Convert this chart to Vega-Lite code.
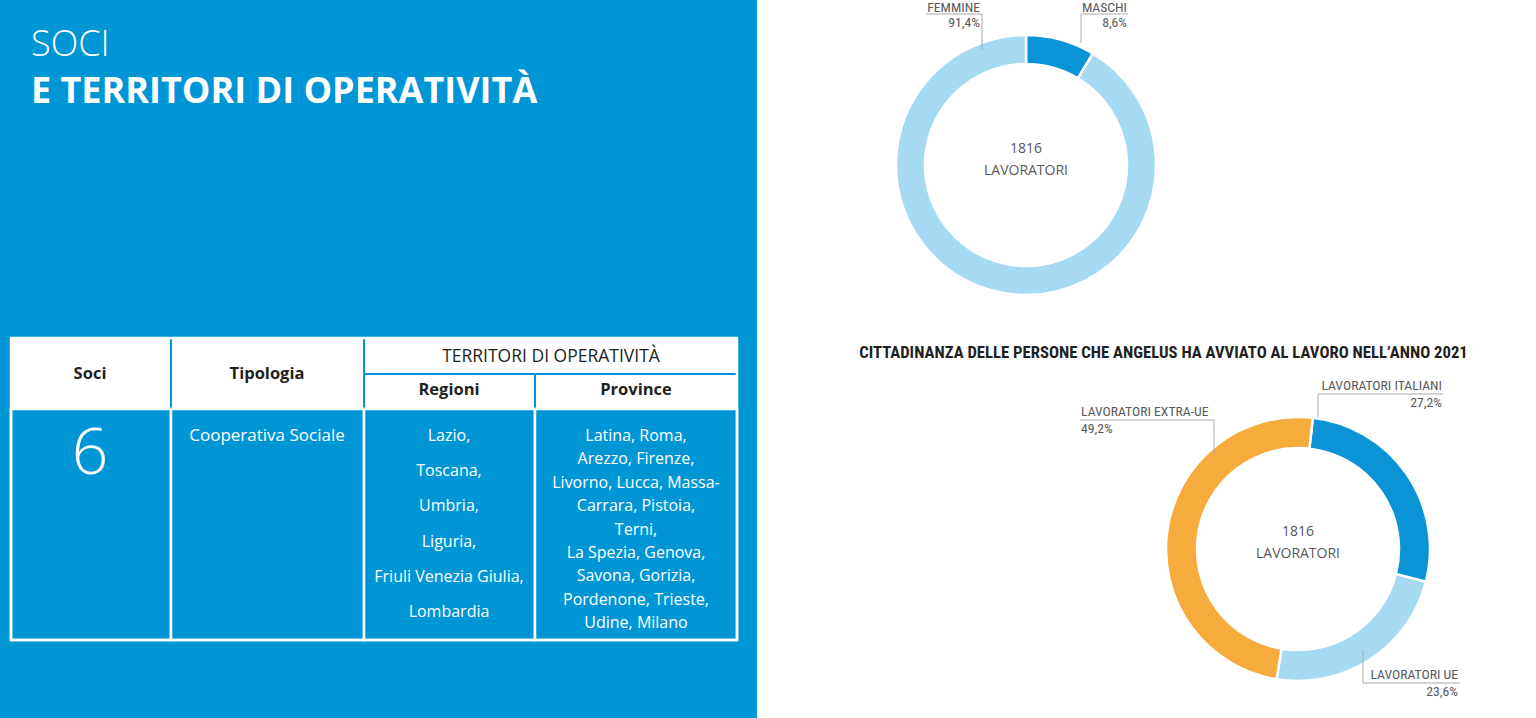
{
  "$schema": "https://vega.github.io/schema/vega-lite/v6.json",
  "background": "white",
  "padding": 0,
  "spacing": 0,
  "bounds": "flush",
  "config": {
    "view": {"stroke": null},
    "concat": {"spacing": 0},
    "font": "Open Sans",
    "locale": {"number": {"decimal": ",", "thousands": ".", "grouping": [3], "currency": ["€", ""]}}
  },
  "datasets": {
    "titoloSinistra": [
      {"riga": "SOCI", "livello": "sopra", "x": 31, "y": 56},
      {"riga": "E TERRITORI DI OPERATIVITÀ", "livello": "sotto", "x": 31, "y": 103}
    ],
    "tabella": [
      {"cella": "Soci", "parte": "intestazione", "x": 11, "x2": 171, "y": 338, "y2": 409},
      {"cella": "Tipologia", "parte": "intestazione", "x": 171, "x2": 364, "y": 338, "y2": 409},
      {"cella": "Territori di operatività", "parte": "intestazione", "x": 364, "x2": 737, "y": 338, "y2": 374},
      {"cella": "Regioni", "parte": "intestazione", "x": 364, "x2": 535, "y": 374, "y2": 409},
      {"cella": "Province", "parte": "intestazione", "x": 535, "x2": 737, "y": 374, "y2": 409},
      {"cella": "Soci", "parte": "corpo", "x": 11, "x2": 171, "y": 409, "y2": 640},
      {"cella": "Tipologia", "parte": "corpo", "x": 171, "x2": 364, "y": 409, "y2": 640},
      {"cella": "Regioni", "parte": "corpo", "x": 364, "x2": 535, "y": 409, "y2": 640},
      {"cella": "Province", "parte": "corpo", "x": 535, "x2": 737, "y": 409, "y2": 640},
      {"cella": "Tabella", "parte": "cornice", "x": 11, "x2": 737, "y": 338, "y2": 640}
    ],
    "testiTabella": [
      {"testo": "Soci", "tipo": "intestazione", "x": 90, "y": 374},
      {"testo": "Tipologia", "tipo": "intestazione", "x": 267, "y": 374},
      {"testo": "TERRITORI DI OPERATIVITÀ", "tipo": "gruppo", "x": 551, "y": 357},
      {"testo": "Regioni", "tipo": "intestazione", "x": 449, "y": 390},
      {"testo": "Province", "tipo": "intestazione", "x": 636, "y": 390},
      {"testo": "6", "tipo": "numero", "x": 90, "y": 455},
      {"testo": "Cooperativa Sociale", "tipo": "tipologia", "x": 267, "y": 436},
      {"testo": "Lazio,\nToscana,\nUmbria,\nLiguria,\nFriuli Venezia Giulia,\nLombardia", "tipo": "regioni", "x": 449, "y": 436},
      {"testo": "Latina, Roma,\nArezzo, Firenze,\nLivorno, Lucca, Massa-\nCarrara, Pistoia,\nTerni,\nLa Spezia, Genova,\nSavona, Gorizia,\nPordenone, Trieste,\nUdine, Milano", "tipo": "province", "x": 636, "y": 436}
    ],
    "genere": [
      {"cat": "MASCHI", "quota": 0.086, "ord": 1},
      {"cat": "FEMMINE", "quota": 0.914, "ord": 2}
    ],
    "genereEtichette": [
      {"cat": "FEMMINE", "x": 223, "y": 8},
      {"cat": "MASCHI", "x": 370, "y": 8}
    ],
    "genereGuide": [
      {"cat": "FEMMINE", "p": 1, "x": 169, "y": 14},
      {"cat": "FEMMINE", "p": 2, "x": 225, "y": 14},
      {"cat": "FEMMINE", "p": 3, "x": 225, "y": 50},
      {"cat": "MASCHI", "p": 1, "x": 371, "y": 14},
      {"cat": "MASCHI", "p": 2, "x": 324, "y": 14},
      {"cat": "MASCHI", "p": 3, "x": 324, "y": 43}
    ],
    "totale": [{"totale": 1816, "unita": "LAVORATORI"}],
    "cittadinanza": [
      {"cat": "LAVORATORI ITALIANI", "quota": 0.272, "ord": 1},
      {"cat": "LAVORATORI UE", "quota": 0.236, "ord": 2},
      {"cat": "LAVORATORI EXTRA-UE", "quota": 0.492, "ord": 3}
    ],
    "cittadinanzaEtichette": [
      {"cat": "LAVORATORI ITALIANI", "x": 382, "y": 6},
      {"cat": "LAVORATORI UE", "x": 398, "y": 295},
      {"cat": "LAVORATORI EXTRA-UE", "x": 21, "y": 32}
    ],
    "cittadinanzaGuide": [
      {"cat": "LAVORATORI ITALIANI", "p": 1, "x": 383, "y": 14},
      {"cat": "LAVORATORI ITALIANI", "p": 2, "x": 258, "y": 14},
      {"cat": "LAVORATORI ITALIANI", "p": 3, "x": 258, "y": 37},
      {"cat": "LAVORATORI UE", "p": 1, "x": 400, "y": 303},
      {"cat": "LAVORATORI UE", "p": 2, "x": 303, "y": 303},
      {"cat": "LAVORATORI UE", "p": 3, "x": 303, "y": 270},
      {"cat": "LAVORATORI EXTRA-UE", "p": 1, "x": 20, "y": 40},
      {"cat": "LAVORATORI EXTRA-UE", "p": 2, "x": 154, "y": 40},
      {"cat": "LAVORATORI EXTRA-UE", "p": 3, "x": 154, "y": 75}
    ],
    "titoloGrafico": [{"titolo": "CITTADINANZA DELLE PERSONE CHE ANGELUS HA AVVIATO AL LAVORO NELL’ANNO 2021"}]
  },
  "hconcat": [
    {
      "width": 757,
      "height": 718,
      "view": {"fill": "#0096d6", "stroke": null},
      "encoding": {
        "x": {"field": "x", "type": "quantitative", "scale": {"domain": [0, 757]}, "axis": null},
        "y": {"field": "y", "type": "quantitative", "scale": {"domain": [0, 718], "reverse": true}, "axis": null}
      },
      "layer": [
        {
          "data": {"name": "titoloSinistra"},
          "transform": [{"filter": "datum.livello === 'sopra'"}],
          "mark": {"type": "text", "align": "left", "baseline": "alphabetic", "fontSize": 36, "fontWeight": 300, "color": "white"},
          "encoding": {"text": {"field": "riga"}}
        },
        {
          "data": {"name": "titoloSinistra"},
          "transform": [{"filter": "datum.livello === 'sotto'"}],
          "mark": {"type": "text", "align": "left", "baseline": "alphabetic", "fontSize": 36, "fontWeight": "bold", "color": "white"},
          "encoding": {"text": {"field": "riga"}}
        },
        {
          "data": {"name": "tabella"},
          "transform": [{"filter": "datum.parte === 'intestazione'"}],
          "mark": {"type": "rect", "fill": "white", "stroke": "#0096d6", "strokeWidth": 2},
          "encoding": {"x2": {"field": "x2"}, "y2": {"field": "y2"}}
        },
        {
          "data": {"name": "tabella"},
          "transform": [{"filter": "datum.parte === 'corpo'"}],
          "mark": {"type": "rect", "fill": "#0096d6", "stroke": "white", "strokeWidth": 2.5},
          "encoding": {"x2": {"field": "x2"}, "y2": {"field": "y2"}}
        },
        {
          "data": {"name": "tabella"},
          "transform": [{"filter": "datum.parte === 'cornice'"}],
          "mark": {"type": "rect", "filled": false, "stroke": "white", "strokeWidth": 2.5},
          "encoding": {"x2": {"field": "x2"}, "y2": {"field": "y2"}}
        },
        {
          "data": {"name": "testiTabella"},
          "transform": [{"filter": "datum.tipo === 'intestazione'"}],
          "mark": {"type": "text", "align": "center", "baseline": "middle", "fontSize": 16.5, "fontWeight": "bold", "color": "#231f20"},
          "encoding": {"text": {"field": "testo"}}
        },
        {
          "data": {"name": "testiTabella"},
          "transform": [{"filter": "datum.tipo === 'gruppo'"}],
          "mark": {"type": "text", "align": "center", "baseline": "middle", "fontSize": 17.5, "color": "#231f20"},
          "encoding": {"text": {"field": "testo"}}
        },
        {
          "data": {"name": "testiTabella"},
          "transform": [{"filter": "datum.tipo === 'numero'"}],
          "mark": {"type": "text", "align": "center", "baseline": "middle", "fontSize": 64, "fontWeight": 300, "color": "white"},
          "encoding": {"text": {"field": "testo"}}
        },
        {
          "data": {"name": "testiTabella"},
          "transform": [{"filter": "datum.tipo === 'tipologia'"}],
          "mark": {"type": "text", "align": "center", "baseline": "middle", "fontSize": 17, "color": "white"},
          "encoding": {"text": {"field": "testo"}}
        },
        {
          "data": {"name": "testiTabella"},
          "transform": [{"filter": "datum.tipo === 'regioni'"}],
          "mark": {"type": "text", "align": "center", "baseline": "middle", "fontSize": 16, "color": "white", "lineBreak": "\n", "lineHeight": 35.2},
          "encoding": {"text": {"field": "testo"}}
        },
        {
          "data": {"name": "testiTabella"},
          "transform": [{"filter": "datum.tipo === 'province'"}],
          "mark": {"type": "text", "align": "center", "baseline": "middle", "fontSize": 16, "color": "white", "lineBreak": "\n", "lineHeight": 23.4},
          "encoding": {"text": {"field": "testo"}}
        }
      ]
    },
    {
      "spacing": 0,
      "bounds": "flush",
      "vconcat": [
        {
          "width": 538,
          "height": 330,
          "layer": [
            {
              "data": {"name": "genere"},
              "mark": {"type": "arc", "outerRadius": 130, "innerRadius": 101, "stroke": "white", "strokeWidth": 2.5},
              "encoding": {
                "theta": {"field": "quota", "type": "quantitative", "stack": true},
                "color": {"field": "cat", "type": "nominal", "scale": {"domain": ["MASCHI", "FEMMINE", "LAVORATORI ITALIANI", "LAVORATORI UE", "LAVORATORI EXTRA-UE"], "range": ["#0a94d6", "#a6daf2", "#0a94d6", "#a6daf2", "#f5ac3c"]}, "legend": null},
                "order": {"field": "ord", "type": "quantitative"}
              }
            },
            {
              "data": {"name": "totale"},
              "mark": {"type": "text", "fontSize": 14, "color": "#58595b", "baseline": "middle", "dy": -16},
              "encoding": {"text": {"field": "totale", "type": "quantitative", "format": "d"}}
            },
            {
              "data": {"name": "totale"},
              "mark": {"type": "text", "fontSize": 14, "color": "#58595b", "baseline": "middle", "dy": 6},
              "encoding": {"text": {"field": "unita", "type": "nominal"}}
            },
            {
              "data": {"name": "genereGuide"},
              "mark": {"type": "line", "color": "#a7a9ac", "strokeWidth": 1},
              "encoding": {
                "x": {"field": "x", "type": "quantitative", "scale": {"domain": [0, 538]}, "axis": null},
                "y": {"field": "y", "type": "quantitative", "scale": {"domain": [0, 330], "reverse": true}, "axis": null},
                "detail": {"field": "cat"},
                "order": {"field": "p", "type": "quantitative"}
              }
            },
            {
              "data": {"name": "genereEtichette"},
              "mark": {"type": "text", "align": "right", "baseline": "middle", "font": "Liberation Sans Narrow, Roboto Condensed, Roboto, sans-serif", "fontSize": 13.7, "color": "#58595b", "clip": true},
              "encoding": {
                "x": {"field": "x", "type": "quantitative", "scale": {"domain": [0, 538]}, "axis": null},
                "y": {"field": "y", "type": "quantitative", "scale": {"domain": [0, 330], "reverse": true}, "axis": null},
                "text": {"field": "cat"}
              }
            },
            {
              "data": {"name": "genereEtichette"},
              "transform": [{"lookup": "cat", "from": {"data": {"name": "genere"}, "key": "cat", "fields": ["quota"]}}],
              "mark": {"type": "text", "align": "right", "baseline": "middle", "font": "Liberation Sans Narrow, Roboto Condensed, Roboto, sans-serif", "fontSize": 13.7, "color": "#58595b", "dy": 15, "clip": true},
              "encoding": {
                "x": {"field": "x", "type": "quantitative", "scale": {"domain": [0, 538]}, "axis": null},
                "y": {"field": "y", "type": "quantitative", "scale": {"domain": [0, 330], "reverse": true}, "axis": null},
                "text": {"field": "quota", "type": "quantitative", "format": ".1%"}
              }
            }
          ]
        },
        {
          "width": 779,
          "height": 50,
          "data": {"name": "titoloGrafico"},
          "mark": {"type": "text", "align": "center", "baseline": "middle", "font": "Liberation Sans Narrow, Roboto Condensed, Roboto, sans-serif", "fontSize": 16.7, "fontWeight": "bold", "color": "#231f20", "dx": 17, "dy": -2},
          "encoding": {"text": {"field": "titolo"}}
        },
        {
          "spacing": 0,
          "bounds": "flush",
          "hconcat": [
            {
              "width": 303,
              "height": 338,
              "data": {"values": []},
              "mark": "rect",
              "encoding": {}
            },
            {
              "width": 476,
              "height": 338,
              "layer": [
                {
                  "data": {"name": "cittadinanza"},
                  "mark": {"type": "arc", "outerRadius": 132, "innerRadius": 101, "stroke": "white", "strokeWidth": 2.5},
                  "encoding": {
                    "theta": {"field": "quota", "type": "quantitative", "stack": true, "scale": {"range": [0.113, 6.396]}},
                    "color": {"field": "cat", "type": "nominal", "scale": {"domain": ["MASCHI", "FEMMINE", "LAVORATORI ITALIANI", "LAVORATORI UE", "LAVORATORI EXTRA-UE"], "range": ["#0a94d6", "#a6daf2", "#0a94d6", "#a6daf2", "#f5ac3c"]}, "legend": null},
                    "order": {"field": "ord", "type": "quantitative"}
                  }
                },
                {
                  "data": {"name": "totale"},
                  "mark": {"type": "text", "fontSize": 14, "color": "#58595b", "baseline": "middle", "dy": -17},
                  "encoding": {"text": {"field": "totale", "type": "quantitative", "format": "d"}}
                },
                {
                  "data": {"name": "totale"},
                  "mark": {"type": "text", "fontSize": 14, "color": "#58595b", "baseline": "middle", "dy": 5},
                  "encoding": {"text": {"field": "unita", "type": "nominal"}}
                },
                {
                  "data": {"name": "cittadinanzaGuide"},
                  "mark": {"type": "line", "color": "#a7a9ac", "strokeWidth": 1},
                  "encoding": {
                    "x": {"field": "x", "type": "quantitative", "scale": {"domain": [0, 476]}, "axis": null},
                    "y": {"field": "y", "type": "quantitative", "scale": {"domain": [0, 338], "reverse": true}, "axis": null},
                    "detail": {"field": "cat"},
                    "order": {"field": "p", "type": "quantitative"}
                  }
                },
                {
                  "data": {"name": "cittadinanzaEtichette"},
                  "transform": [{"filter": "datum.cat !== 'LAVORATORI EXTRA-UE'"}],
                  "mark": {"type": "text", "align": "right", "baseline": "middle", "font": "Liberation Sans Narrow, Roboto Condensed, Roboto, sans-serif", "fontSize": 13.7, "color": "#58595b"},
                  "encoding": {
                    "x": {"field": "x", "type": "quantitative", "scale": {"domain": [0, 476]}, "axis": null},
                    "y": {"field": "y", "type": "quantitative", "scale": {"domain": [0, 338], "reverse": true}, "axis": null},
                    "text": {"field": "cat"}
                  }
                },
                {
                  "data": {"name": "cittadinanzaEtichette"},
                  "transform": [
                    {"filter": "datum.cat !== 'LAVORATORI EXTRA-UE'"},
                    {"lookup": "cat", "from": {"data": {"name": "cittadinanza"}, "key": "cat", "fields": ["quota"]}}
                  ],
                  "mark": {"type": "text", "align": "right", "baseline": "middle", "font": "Liberation Sans Narrow, Roboto Condensed, Roboto, sans-serif", "fontSize": 13.7, "color": "#58595b", "dy": 17},
                  "encoding": {
                    "x": {"field": "x", "type": "quantitative", "scale": {"domain": [0, 476]}, "axis": null},
                    "y": {"field": "y", "type": "quantitative", "scale": {"domain": [0, 338], "reverse": true}, "axis": null},
                    "text": {"field": "quota", "type": "quantitative", "format": ".1%"}
                  }
                },
                {
                  "data": {"name": "cittadinanzaEtichette"},
                  "transform": [{"filter": "datum.cat === 'LAVORATORI EXTRA-UE'"}],
                  "mark": {"type": "text", "align": "left", "baseline": "middle", "font": "Liberation Sans Narrow, Roboto Condensed, Roboto, sans-serif", "fontSize": 13.7, "color": "#58595b"},
                  "encoding": {
                    "x": {"field": "x", "type": "quantitative", "scale": {"domain": [0, 476]}, "axis": null},
                    "y": {"field": "y", "type": "quantitative", "scale": {"domain": [0, 338], "reverse": true}, "axis": null},
                    "text": {"field": "cat"}
                  }
                },
                {
                  "data": {"name": "cittadinanzaEtichette"},
                  "transform": [
                    {"filter": "datum.cat === 'LAVORATORI EXTRA-UE'"},
                    {"lookup": "cat", "from": {"data": {"name": "cittadinanza"}, "key": "cat", "fields": ["quota"]}}
                  ],
                  "mark": {"type": "text", "align": "left", "baseline": "middle", "font": "Liberation Sans Narrow, Roboto Condensed, Roboto, sans-serif", "fontSize": 13.7, "color": "#58595b", "dy": 17},
                  "encoding": {
                    "x": {"field": "x", "type": "quantitative", "scale": {"domain": [0, 476]}, "axis": null},
                    "y": {"field": "y", "type": "quantitative", "scale": {"domain": [0, 338], "reverse": true}, "axis": null},
                    "text": {"field": "quota", "type": "quantitative", "format": ".1%"}
                  }
                }
              ]
            }
          ]
        }
      ]
    }
  ]
}
